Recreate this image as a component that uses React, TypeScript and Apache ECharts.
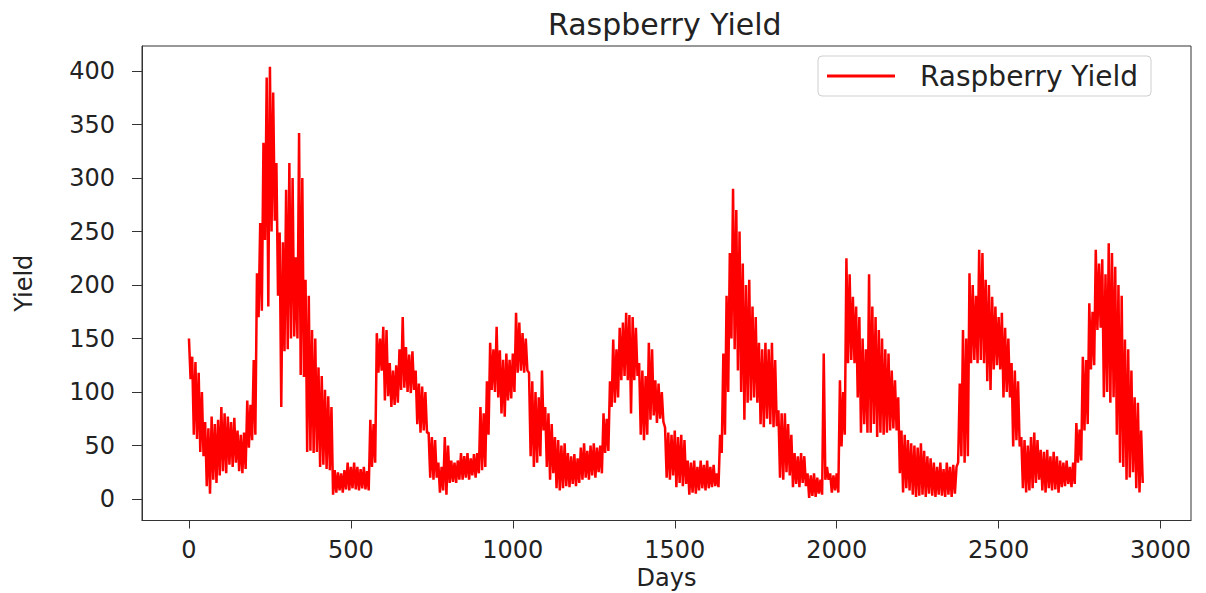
import React, { useEffect, useRef } from "react";
import * as echarts from "echarts";

const title = "Raspberry Yield";
const seriesName = "Raspberry Yield";
const xName = "Days";
const yName = "Yield";

const xTicks = [0, 500, 1000, 1500, 2000, 2500, 3000];
const yTicks = [0, 50, 100, 150, 200, 250, 300, 350, 400];

const dayStep = 5;
const yieldValues = [
  150, 112, 133, 60, 128, 56, 118, 44, 100, 40,
  72, 12, 66, 5, 77, 18, 70, 15, 74, 22,
  86, 26, 80, 24, 77, 32, 72, 30, 76, 34,
  64, 26, 60, 24, 62, 28, 92, 48, 88, 55,
  130, 60, 211, 170, 258, 176, 333, 242, 394, 180,
  404, 250, 380, 260, 314, 190, 249, 86, 240, 138,
  289, 140, 314, 150, 300, 152, 226, 150, 342, 116,
  300, 114, 205, 44, 190, 45, 158, 43, 150, 44,
  123, 30, 115, 32, 102, 28, 96, 27, 86, 4,
  27, 6, 25, 8, 24, 6, 27, 9, 34, 8,
  30, 10, 34, 9, 30, 8, 28, 10, 30, 9,
  26, 8, 74, 30, 70, 34, 155, 118, 150, 120,
  161, 92, 158, 96, 127, 86, 120, 88, 125, 90,
  140, 102, 170, 104, 142, 100, 135, 99, 138, 102,
  120, 70, 108, 62, 105, 64, 100, 62, 62, 20,
  58, 18, 55, 20, 34, 6, 30, 8, 58, 4,
  50, 15, 36, 16, 34, 15, 36, 18, 43, 18,
  40, 20, 43, 18, 38, 22, 42, 20, 43, 24,
  86, 27, 80, 30, 110, 60, 146, 102, 140, 100,
  161, 95, 139, 80, 130, 77, 136, 92, 130, 94,
  136, 100, 174, 118, 165, 120, 155, 118, 150, 120,
  118, 40, 110, 30, 100, 34, 95, 40, 120, 64,
  86, 30, 80, 18, 70, 24, 58, 10, 55, 8,
  50, 10, 52, 12, 43, 11, 40, 14, 42, 12,
  38, 15, 48, 18, 52, 20, 45, 18, 50, 22,
  52, 20, 48, 25, 50, 24, 80, 43, 75, 45,
  110, 86, 149, 90, 140, 95, 160, 111, 165, 115,
  174, 111, 172, 80, 170, 111, 160, 115, 127, 60,
  120, 55, 115, 60, 146, 74, 140, 78, 111, 71,
  108, 75, 100, 72, 67, 20, 62, 18, 60, 22,
  64, 11, 58, 15, 60, 12, 55, 14, 36, 4,
  34, 6, 36, 5, 30, 8, 36, 10, 32, 8,
  36, 10, 30, 11, 32, 12, 24, 11, 60, 43,
  136, 60, 190, 100, 230, 150, 290, 140, 270, 120,
  250, 100, 220, 74, 200, 90, 205, 92, 180, 95,
  170, 90, 146, 70, 140, 67, 146, 75, 140, 70,
  146, 67, 130, 68, 83, 20, 80, 18, 80, 25,
  70, 22, 60, 11, 43, 14, 40, 11, 43, 15,
  40, 12, 24, 1, 22, 3, 24, 2, 20, 5,
  18, 4, 136, 18, 30, 18, 24, 6, 22, 8,
  24, 6, 111, 49, 100, 60, 225, 127, 210, 130,
  189, 127, 180, 95, 170, 62, 150, 70, 140, 62,
  210, 62, 180, 70, 170, 58, 158, 62, 150, 60,
  140, 62, 136, 64, 120, 66, 111, 64, 95, 24,
  64, 6, 60, 10, 55, 8, 52, 4, 50, 2,
  48, 3, 52, 4, 45, 2, 40, 5, 38, 3,
  34, 2, 30, 4, 34, 3, 28, 2, 34, 4,
  30, 2, 32, 5, 30, 34, 108, 40, 158, 34,
  150, 40, 211, 127, 200, 130, 190, 127, 233, 130,
  230, 127, 205, 110, 200, 102, 189, 121, 180, 125,
  170, 121, 174, 95, 160, 100, 150, 95, 127, 49,
  120, 55, 110, 49, 58, 10, 55, 6, 50, 8,
  58, 10, 62, 15, 55, 18, 46, 8, 44, 6,
  46, 10, 40, 8, 44, 9, 40, 6, 36, 11,
  34, 12, 36, 14, 30, 11, 34, 14, 71, 34,
  65, 36, 133, 64, 130, 70, 183, 121, 175, 125,
  233, 158, 220, 160, 224, 95, 210, 100, 239, 90,
  230, 95, 217, 60, 200, 34, 190, 30, 149, 18,
  140, 20, 120, 25, 95, 10, 90, 6, 64, 15,
];

const FONT = "DejaVu Sans";
const TEXT = "#222";
const AXIS = "#333";

export default function App() {
  const ref = useRef<HTMLDivElement>(null);

  useEffect(() => {
    if (!ref.current) return;
    const chart = echarts.init(ref.current, null, { renderer: "svg" });
    const data = yieldValues.map((v, i) => [i * dayStep, v]);
    const plain = (v: number) => String(v);
    chart.setOption({
      animation: false,
      backgroundColor: "#fff",
      title: {
        text: title,
        left: 548,
        top: 9,
        padding: 0,
        textStyle: { fontFamily: FONT, fontSize: 30, fontWeight: "normal", color: TEXT },
      },
      legend: {
        left: 818,
        top: 56,
        padding: [6, 13, 6, 9],
        itemWidth: 68,
        itemHeight: 3,
        icon: "rect",
        borderColor: "#cfcfcf",
        borderWidth: 1,
        borderRadius: 4,
        backgroundColor: "rgba(255,255,255,0.85)",
        textStyle: {
          fontFamily: FONT,
          fontSize: 28,
          color: TEXT,
          padding: [0, 24, 0, 20],
        },
        data: [{ name: seriesName, itemStyle: { color: "#ff0000" } }],
      },
      grid: {
        left: 142,
        right: 15,
        top: 46,
        bottom: 72.5,
        show: true,
        borderColor: AXIS,
        borderWidth: 1,
        backgroundColor: "#fff",
        containLabel: false,
        outerBoundsMode: "none",
      },
      xAxis: {
        type: "value",
        min: -145,
        max: 3094,
        name: xName,
        nameLocation: "middle",
        nameGap: 45,
        nameTextStyle: { fontFamily: FONT, fontSize: 24, color: TEXT },
        axisLine: { show: true, onZero: false, lineStyle: { color: AXIS, width: 1 } },
        axisTick: { show: true, length: 8, customValues: xTicks, lineStyle: { color: AXIS } },
        axisLabel: {
          customValues: xTicks,
          formatter: plain,
          margin: 17,
          fontFamily: FONT,
          fontSize: 24,
          color: TEXT,
        },
        splitLine: { show: false },
      },
      yAxis: {
        type: "value",
        min: -20.1,
        max: 423.4,
        name: yName,
        nameLocation: "middle",
        nameGap: 106,
        nameTextStyle: { fontFamily: FONT, fontSize: 24, color: TEXT },
        axisLine: { show: true, onZero: false, lineStyle: { color: AXIS, width: 1 } },
        axisTick: { show: true, length: 10, customValues: yTicks, lineStyle: { color: AXIS } },
        axisLabel: {
          customValues: yTicks,
          formatter: plain,
          margin: 27,
          fontFamily: FONT,
          fontSize: 24,
          color: TEXT,
        },
        splitLine: { show: false },
      },
      series: [
        {
          name: seriesName,
          type: "line",
          data,
          showSymbol: false,
          symbol: "none",
          lineStyle: { color: "#ff0000", width: 2.5 },
          itemStyle: { color: "#ff0000" },
          clip: true,
        },
      ],
    });
    return () => chart.dispose();
  }, []);

  return (
    <div
      ref={ref}
      style={{ position: "fixed", left: 0, top: 0, width: 1206, height: 593, background: "#fff" }}
    />
  );
}
